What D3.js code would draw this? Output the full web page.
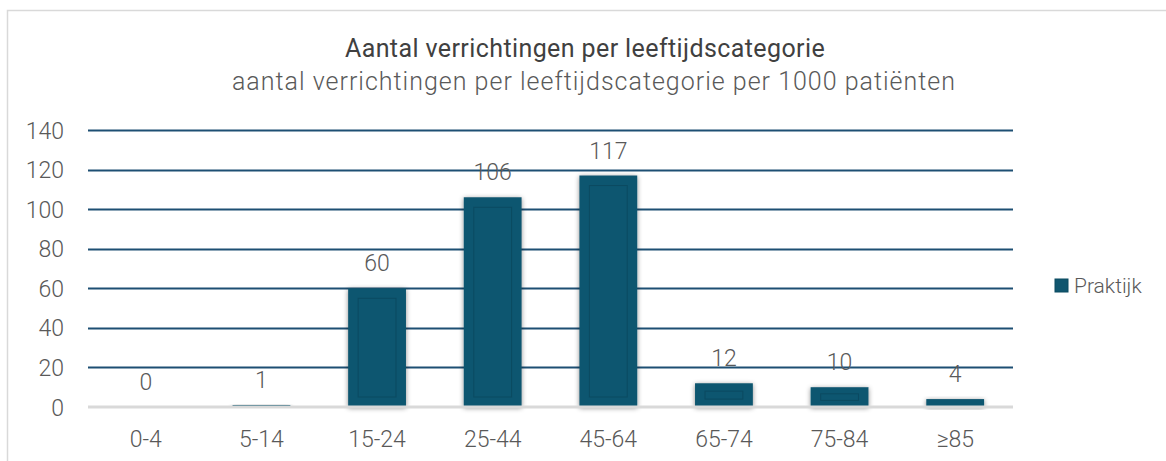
<!DOCTYPE html>
<html>
<head>
<meta charset="utf-8">
<script src="https://cdn.jsdelivr.net/npm/d3@7"></script>
<style>
    body { margin: 0; background: #fff; }
    svg { display: block; }
    text { font-family: Roboto, "Open Sans", sans-serif; font-weight: 300; fill: #595959; }
</style>
</head>
<body>
<svg id="chart" width="1166" height="461"></svg>
<script>
const categories = ["0-4", "5-14", "15-24", "25-44", "45-64", "65-74", "75-84", "≥85"];
const values = [0, 1, 60, 106, 117, 12, 10, 4];
const yTicks = [0, 20, 40, 60, 80, 100, 120, 140];
const seriesName = "Praktijk";
const title = "Aantal verrichtingen per leeftijdscategorie";
const subtitle = "aantal verrichtingen per leeftijdscategorie per 1000 patiënten";

const barColor = "#10566f";
const data = categories.map((c, i) => ({ cat: c, value: values[i] }));

const svg = d3.select("#chart");

// chart frame (left + top border, rest is cut off)
svg.append("path")
    .attr("d", "M7.5,461 V10.5 H1166")
    .attr("fill", "none")
    .attr("stroke", "#d9d9d9")
    .attr("stroke-width", 1.5);

const defs = svg.append("defs");
const shadow = defs.append("filter")
    .attr("id", "shadow")
    .attr("x", "-30%").attr("y", "-30%")
    .attr("width", "160%").attr("height", "160%");
shadow.append("feDropShadow")
    .attr("dx", 0).attr("dy", 1)
    .attr("stdDeviation", 2.5)
    .attr("flood-color", "#000")
    .attr("flood-opacity", 0.45);

svg.append("text")
    .attr("x", 585).attr("y", 57)
    .attr("text-anchor", "middle")
    .attr("font-size", 25)
    .style("letter-spacing", "0.4px")
    .style("fill", "#404040")
    .style("font-weight", 400)
    .text(title);

svg.append("text")
    .attr("x", 594).attr("y", 90)
    .attr("text-anchor", "middle")
    .attr("font-size", 25)
    .style("letter-spacing", "1px")
    .text(subtitle);

const x = d3.scaleBand()
    .domain(categories)
    .range([88, 1013])
    .paddingInner(0.5)
    .paddingOuter(0.25);

const y = d3.scaleLinear()
    .domain([0, 140])
    .range([407, 130]);

// gridlines
svg.append("g")
    .selectAll("line")
    .data(yTicks.filter((d) => d > 0))
    .enter()
    .append("line")
    .attr("x1", 88).attr("x2", 1013)
    .attr("y1", (d) => Math.round(y(d)) + 0.5)
    .attr("y2", (d) => Math.round(y(d)) + 0.5)
    .attr("stroke", "#1d4f73")
    .attr("stroke-width", 2);

// y axis labels
const yAxis = d3.axisLeft(y).tickValues(yTicks).tickSize(0).tickPadding(0);
svg.append("g")
    .attr("transform", "translate(64,0)")
    .call(yAxis)
    .call((g) => g.select(".domain").remove())
    .selectAll("text")
    .attr("font-size", 23)
    .attr("dy", "0.35em")
    .style("font-family", null);

// bars
const bars = svg.append("g")
    .selectAll("g")
    .data(data)
    .enter()
    .append("g");

bars.append("rect")
    .attr("x", (d) => x(d.cat))
    .attr("y", (d) => y(d.value))
    .attr("width", x.bandwidth())
    .attr("height", (d) => y(0) - y(d.value))
    .attr("fill", barColor)
    .attr("filter", "url(#shadow)");

// inner bevel
const inset = (d) => Math.min(10, (y(0) - y(d.value)) / 3);
bars.filter((d) => y(0) - y(d.value) > 8)
    .append("rect")
    .attr("x", (d) => x(d.cat) + 10)
    .attr("y", (d) => y(d.value) + inset(d))
    .attr("width", x.bandwidth() - 20)
    .attr("height", (d) => (y(0) - y(d.value)) - 2 * inset(d))
    .attr("fill", "none")
    .attr("stroke", "#0b4a61")
    .attr("stroke-width", 1);

// zero baseline
svg.append("line")
    .attr("x1", 88).attr("x2", 1013)
    .attr("y1", y(0)).attr("y2", y(0))
    .attr("stroke", "#d9d9d9")
    .attr("stroke-width", 3);

// value labels
svg.append("g")
    .selectAll("text")
    .data(data)
    .enter()
    .append("text")
    .attr("x", (d) => x(d.cat) + x.bandwidth() / 2)
    .attr("y", (d) => y(d.value) - 17)
    .attr("text-anchor", "middle")
    .attr("font-size", 23)
    .text((d) => d.value);

// x axis labels
const xAxis = d3.axisBottom(x).tickSize(0).tickPadding(0);
svg.append("g")
    .attr("transform", "translate(0,447)")
    .call(xAxis)
    .call((g) => g.select(".domain").remove())
    .selectAll("text")
    .attr("font-size", 23)
    .attr("dy", 0)
    .style("font-family", null);

// legend
const legend = svg.append("g").attr("transform", "translate(1055,279)");
legend.append("rect")
    .attr("width", 13).attr("height", 13)
    .attr("fill", barColor)
    .attr("stroke", "#0b4a61");
legend.append("text")
    .attr("x", 19).attr("y", 14)
    .attr("font-size", 21)
    .text(seriesName);
</script>
</body>
</html>
